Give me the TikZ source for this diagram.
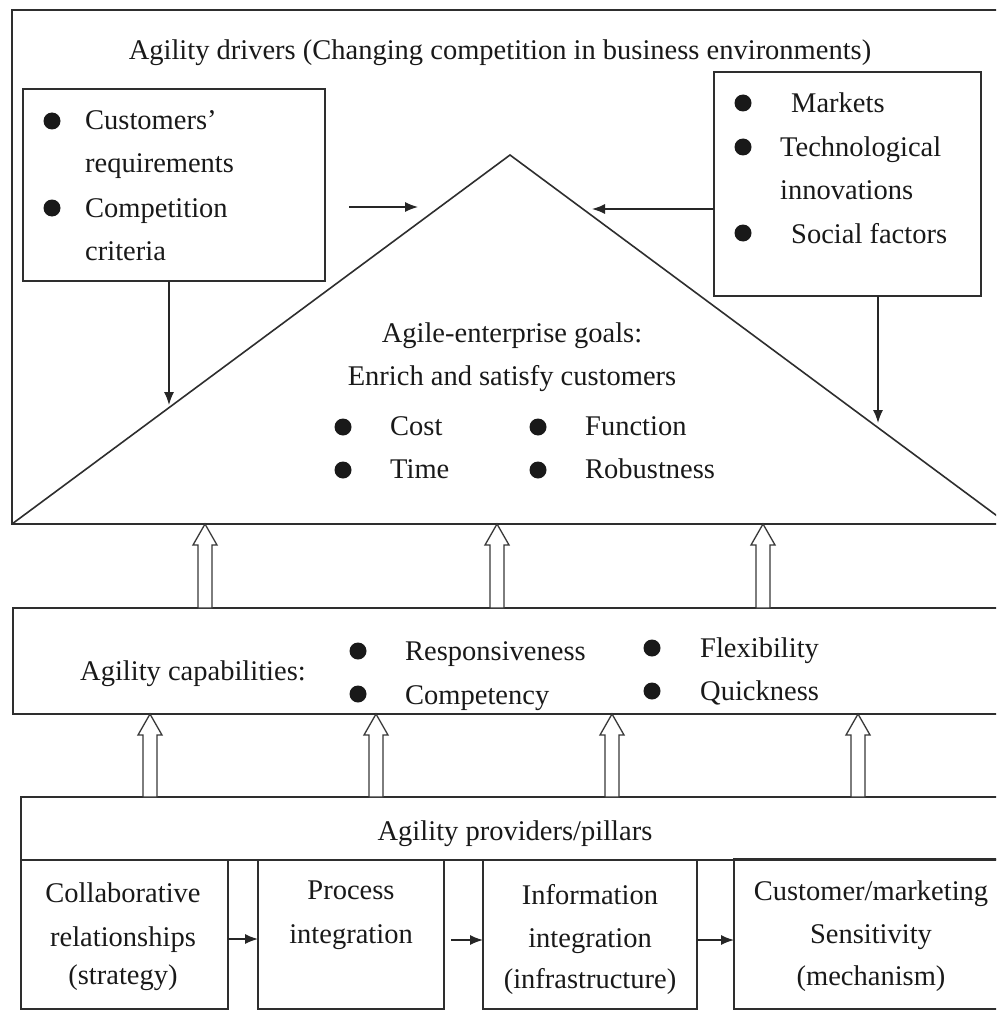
\documentclass[tikz,border=0pt]{standalone}
\usepackage{fontspec}
\setmainfont{Liberation Serif}
\usetikzlibrary{arrows.meta}
\newcommand\hollowup[3]{%
  \draw[hollow] (#1-7,#3) -- (#1-7,#2+21) -- (#1-12,#2+21) -- (#1,#2) -- (#1+12,#2+21) -- (#1+7,#2+21) -- (#1+7,#3) -- cycle;}
\newcommand\bul[2]{\fill[black!90] (#1,#2) circle (8.5pt);}
\begin{document}
\begin{tikzpicture}[x=1pt,y=-1pt,
  line/.style={draw=black!82,line width=1.6pt},
  box/.style={line, anchor=north west, inner sep=0pt, outer sep=0pt},
  txt/.style={font=\fontsize{28.5}{34}\selectfont, inner sep=0pt, text=black!90},
  lt/.style={txt, anchor=base west},
  ct/.style={txt, anchor=base},
  arr/.style={line width=1.4pt, draw=black!85, -{Latex[length=13pt,width=10pt]}},
  hollow/.style={draw=black!78, line width=1.3pt, fill=white}]
\useasboundingbox (0,0) rectangle (996,1011);
\clip (0,0) rectangle (996,1011);
\fill[white] (0,0) rectangle (996,1011);

% ---- drivers frame and triangle
\node[box, minimum width=1010pt, minimum height=514pt] (drivers) at (12,10) {};
\draw[line, line join=miter] (12,524) -- (510,155) -- (1008,524);
\node[ct] (title) at (500,60) {Agility drivers (Changing competition in business environments)};

% left box
\node[box, minimum width=302pt, minimum height=192pt] (lbox) at (23,89) {};
\bul{52}{121}\bul{52}{208}
\node[lt] (l1) at (85,130) {Customers'};
\node[lt] (l2) at (85,173) {requirements};
\node[lt] (l3) at (85,217) {Competition};
\node[lt] (l4) at (85,260) {criteria};

% right box
\node[box, minimum width=267pt, minimum height=224pt] (rbox) at (714,72) {};
\bul{743}{103}\bul{743}{147}\bul{743}{233}
\node[lt] (r1) at (791,113) {Markets};
\node[lt] (r2) at (780,157) {Technological};
\node[lt] (r3) at (780,200) {innovations};
\node[lt] (r4) at (791,243) {Social factors};

% arrows to triangle
\coordinate (la1) at (349,207);
\coordinate (la2) at (418,207);
\draw[arr] (la1) -- (la2);
\coordinate (ra) at (592,209);
\draw[arr] ([yshift=-25pt]rbox.west) -- (ra);
\coordinate (lv) at (169,405);
\draw[arr] ([xshift=-5pt]lbox.south) -- (lv);
\coordinate (rv) at (878,423);
\draw[arr] ([xshift=30.5pt]rbox.south) -- (rv);

% triangle text
\node[ct] (g1) at (512,342) {Agile-enterprise goals:};
\node[ct] (g2) at (512,385) {Enrich and satisfy customers};
\bul{343}{427}\bul{343}{470}\bul{538}{427}\bul{538}{470}
\node[lt] (g3) at (390,435) {Cost};
\node[lt] (g4) at (390,478) {Time};
\node[lt] (g5) at (585,435) {Function};
\node[lt] (g6) at (585,478) {Robustness};

% ---- capabilities
\node[box, minimum width=1000pt, minimum height=106pt] (cap) at (13,608) {};
\node[lt] (c0) at (80,680) {Agility capabilities:};
\bul{358}{651}\bul{358}{694}\bul{652}{648}\bul{652}{691}
\node[lt] (c1) at (405,660) {Responsiveness};
\node[lt] (c2) at (405,704) {Competency};
\node[lt] (c3) at (700,657) {Flexibility};
\node[lt] (c4) at (700,700) {Quickness};

% ---- providers
\node[box, minimum width=990pt, minimum height=63pt] (prov) at (21,797) {};
\node[ct] (pt) at (515,840) {Agility providers/pillars};
\node[box, minimum width=207pt, minimum height=149pt] (p1) at (21,860) {};
\node[box, minimum width=186pt, minimum height=149pt] (p2) at (258,860) {};
\node[box, minimum width=214pt, minimum height=149pt] (p3) at (483,860) {};
\node[box, minimum width=280pt, minimum height=150pt] (p4) at (734,859) {};
\node[ct] at (123,902) {Collaborative};
\node[ct] at (123,946) {relationships};
\node[ct] at (123,984) {(strategy)};
\node[ct] at (351,899) {Process};
\node[ct] at (351,943) {integration};
\node[ct] at (590,904) {Information};
\node[ct] at (590,947) {integration};
\node[ct] at (590,988) {(infrastructure)};
\node[ct] at (871,900) {Customer/marketing};
\node[ct] at (871,943) {Sensitivity};
\node[ct] at (871,985) {(mechanism)};
\draw[arr] ([yshift=-4.5pt]p1.east) -- ([yshift=-4.5pt]p2.west);
\draw[arr, shorten <=7pt] ([yshift=-5.5pt]p2.east) -- ([yshift=-5.5pt]p3.west);
\draw[arr] ([yshift=-5.5pt]p3.east) -- ([yshift=-6pt]p4.west);

% ---- hollow arrows
\hollowup{205}{524}{608}
\hollowup{497}{524}{608}
\hollowup{763}{524}{608}
\hollowup{150}{714}{797}
\hollowup{376}{714}{797}
\hollowup{612}{714}{797}
\hollowup{858}{714}{797}
\end{tikzpicture}
\end{document}
